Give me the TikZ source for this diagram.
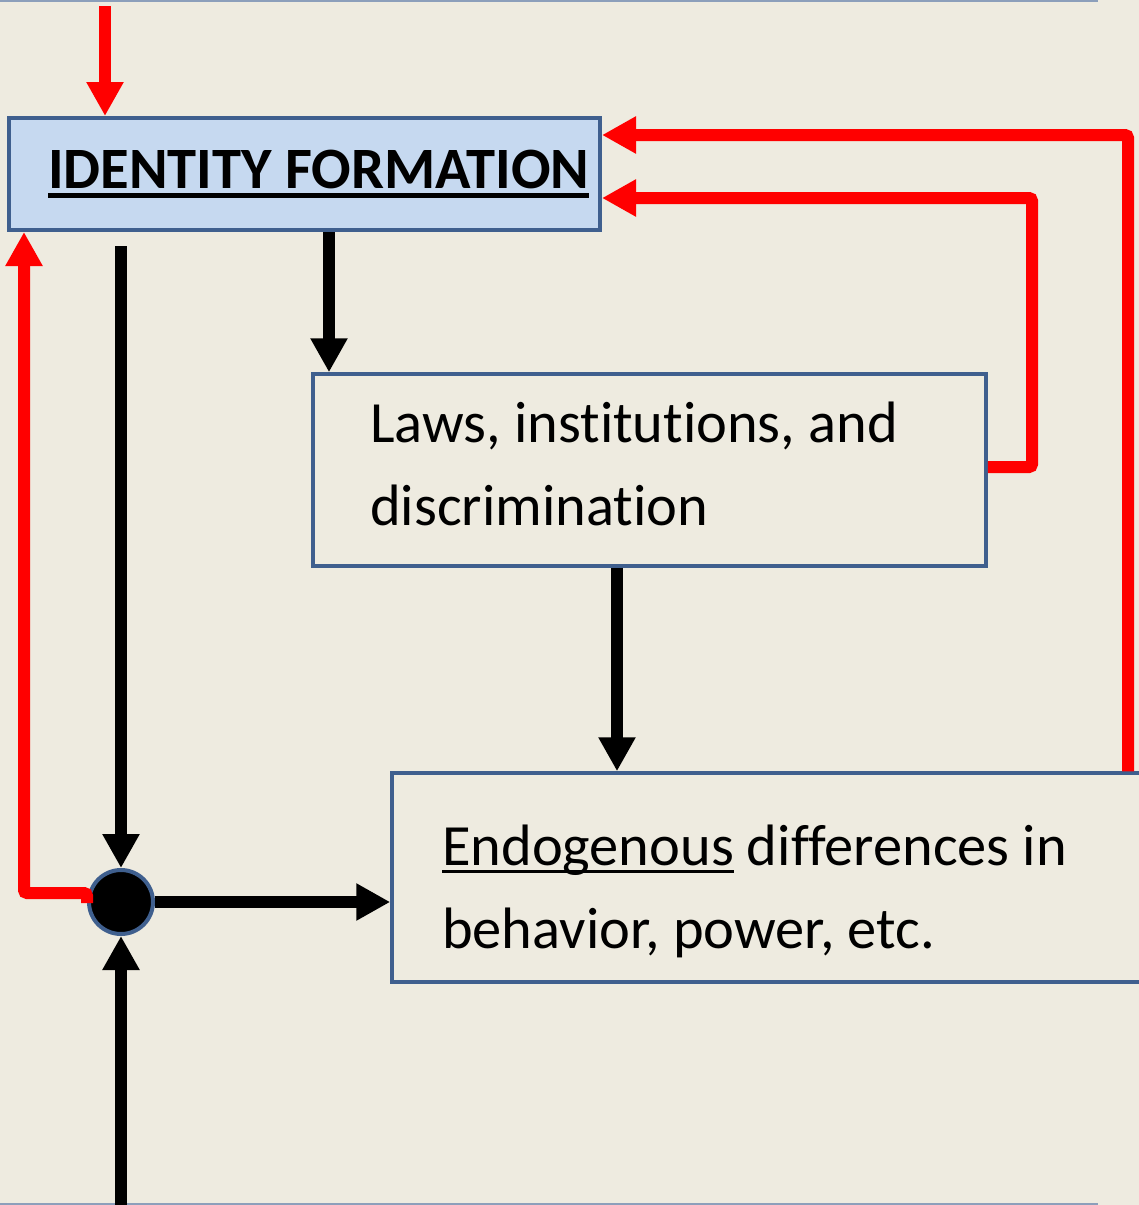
\documentclass[tikz,border=0pt]{standalone}
\usepackage{fontspec}
\setmainfont[Ligatures={NoCommon}]{Carlito}
\usetikzlibrary{arrows.meta,calc}
\definecolor{bg}{HTML}{EEEBE0}
\definecolor{boxblue}{HTML}{3F5F8E}
\definecolor{idfill}{HTML}{C6D9F0}
\definecolor{arrred}{HTML}{FF0000}
\newcommand\ulbox[3]{\setbox0\hbox{#3}\rlap{\rule[-#1]{\wd0}{#2}}\box0{}}
\tikzset{
  box/.style={draw=boxblue, rectangle, inner sep=0pt},
  txt/.style={anchor=base west, inner sep=0pt, font=\fontsize{58.4}{72}\selectfont},
  redarrow/.style={draw=arrred, line width=12pt, rounded corners=3pt, -{Triangle[width=35pt,length=34pt]}},
  blackarrow/.style={draw=black, line width=12pt, -{Triangle[width=35pt,length=34pt]}},
  frameline/.style={draw=boxblue!60, line width=2pt},
}
\begin{document}
\begin{tikzpicture}[x=1pt,y=-1pt]
\fill[bg] (0,0) rectangle (1139,1205);
\useasboundingbox (0,0) rectangle (1139,1205);
\draw[frameline] (0,1) -- (1098,1);
\draw[frameline] (0,1204) -- (1098,1204);

% boxes
\node[box, fill=idfill, line width=4pt, minimum width=591pt, minimum height=112pt] (id) at (304.5,174) {};
\node[box, fill=bg, line width=3.5pt, minimum width=673pt, minimum height=192pt] (laws) at (649.5,470) {};
\node[box, fill=bg, line width=3.5pt, minimum width=758pt, minimum height=209pt] (endo) at (771,877.5) {};
\node[circle, draw=boxblue, fill=black, line width=4pt, minimum size=64pt, inner sep=0pt] (dot) at (121,902) {};

% texts
\node[txt, font=\fontsize{58.6}{72}\selectfont\bfseries] (idtext) at (48,188) {\ulbox{10pt}{5pt}{IDENTITY FORMATION}};
\node[txt] (laws1) at (370,442) {Laws, institutions, and};
\node[txt] (laws2) at (370,525) {discrimination};
\node[txt] (endo1) at (442,865) {\ulbox{8pt}{3pt}{Endogenous} differences in};
\node[txt] (endo2) at (442,948) {behavior, power, etc.};

% coordinates
\coordinate (topin) at (105,6);
\coordinate (a1) at (1128,135);
\coordinate (a2) at (1032,198);
\coordinate (c3) at (24,893);
\coordinate (b1) at (329,0);
\coordinate (b2) at (617,0);
\coordinate (b3) at (121,246);
\coordinate (b4) at (121,1205);

% red connectors
\draw[redarrow] (topin) -- (topin |- id.north);
\draw[redarrow] (a1 |- endo.north) -- (a1) -- (a1 -| id.east);
\draw[redarrow] (laws.east |- 0,467) -- (a2 |- 0,467) -- (a2) -- (a2 -| id.east);
\draw[redarrow] ([yshift=-1pt]dot.west) -- (dot.west |- c3) -- (c3) -- (c3 |- id.south);

% black connectors
\draw[blackarrow] (b1 |- id.south) -- (b1 |- laws.north);
\draw[blackarrow] (b2 |- laws.south) -- (b2 |- endo.north);
\draw[blackarrow] (b3) -- (dot.north);
\draw[blackarrow] (dot.east) -- (dot.east -| endo.west);
\draw[blackarrow] (b4) -- (dot.south);
\end{tikzpicture}
\end{document}
